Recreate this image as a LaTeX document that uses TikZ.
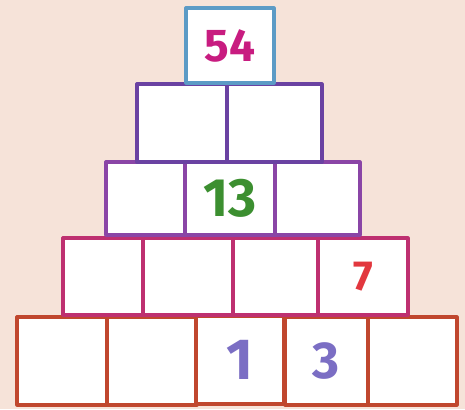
\documentclass[tikz,border=0pt]{standalone}
\usepackage{xcolor}
\usepackage{fontspec}
\usepackage{tikz}
\usetikzlibrary{positioning}
\newfontfamily\digitfont{Fira Sans}
\definecolor{paper}{HTML}{F6E3D9}
\definecolor{rowone}{HTML}{5C9BC6}
\definecolor{rowtwo}{HTML}{6A42A2}
\definecolor{rowthree}{HTML}{8A45A6}
\definecolor{rowfour}{HTML}{BE3070}
\definecolor{rowfive}{HTML}{C0472E}
\definecolor{pink}{HTML}{C81C80}
\definecolor{leaf}{HTML}{3C8F30}
\definecolor{tomato}{HTML}{E2373E}
\definecolor{lilac}{HTML}{7B6EC4}

\tikzset{
  cell/.style={draw,fill=white,line width=3.2pt,inner sep=0pt,font=\digitfont},
  rowa/.style={cell,draw=rowone,minimum height=75},
  rowb/.style={cell,draw=rowtwo,minimum height=78},
  rowc/.style={cell,draw=rowthree,minimum height=73},
  rowd/.style={cell,draw=rowfour,minimum height=77},
  rowe/.style={cell,draw=rowfive,minimum height=88}
}

\begin{document}
\begin{tikzpicture}[x=1pt,y=1pt,line cap=round,line join=round]
  \fill[paper] (0,0) rectangle (465,409);
  \useasboundingbox (0,0) rectangle (465,409);
  % bottom row
  \node[rowe,minimum width=90] (e1) at (62,48) {};
  \node[rowe,minimum width=90] (e2) at (152,48) {};
  \node[rowe,minimum width=88,text=lilac,font=\digitfont\bfseries\fontsize{58}{58}\selectfont] (e3) at (240,49) {1};
  \node[rowe,minimum width=83,text=lilac,font=\digitfont\bfseries\fontsize{52}{52}\selectfont] (e4) at (326.5,48) {3};
  \node[rowe,minimum width=89] (e5) at (412.5,48) {};
  % fourth row
  \node[rowd,minimum width=80] (d1) at (103,132.5) {};
  \node[rowd,minimum width=90] (d2) at (188,132.5) {};
  \node[rowd,minimum width=85] (d3) at (275.5,132.5) {};
  \node[rowd,minimum width=90,text=tomato,font=\digitfont\bfseries\fontsize{42}{42}\selectfont] (d4) at (363,132.5) {7};
  % third row
  \node[rowc,minimum width=79] (c1) at (145.5,210.5) {};
  \node[rowc,minimum width=90,text=leaf,font=\digitfont\bfseries\fontsize{54}{54}\selectfont] (c2) at (230,210.5) {13};
  \node[rowc,minimum width=85] (c3) at (317.5,210.5) {};
  % second row
  \node[rowb,minimum width=90] (b1) at (182,286) {};
  \node[rowb,minimum width=95] (b2) at (274.5,286) {};
  % top
  \node[rowa,minimum width=88,text=pink,font=\digitfont\bfseries\fontsize{46}{46}\selectfont] (a1) at (230,363.5) {54};
\end{tikzpicture}
\end{document}
